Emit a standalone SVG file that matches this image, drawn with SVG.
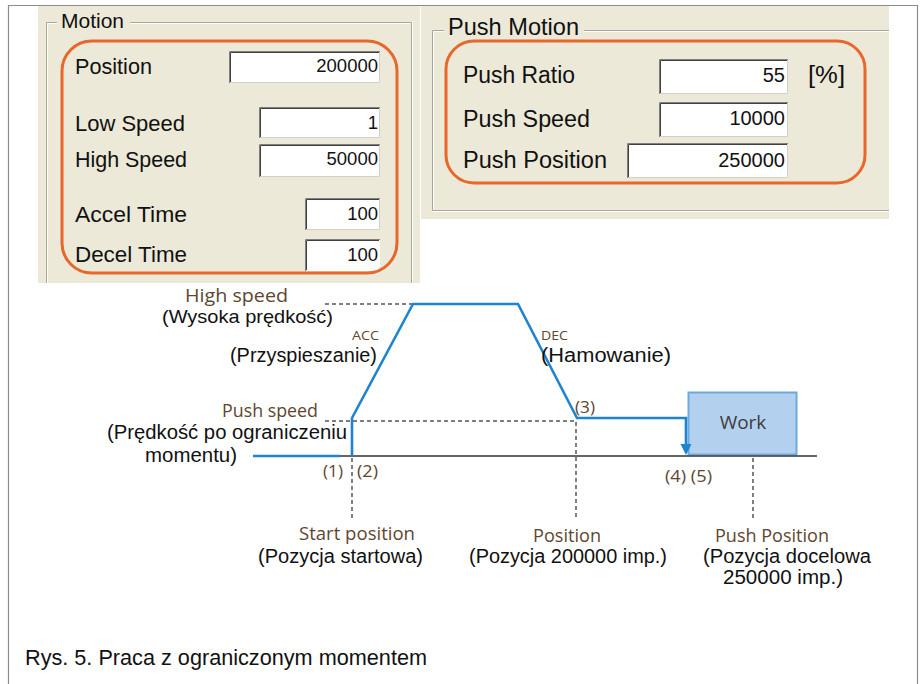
<svg xmlns="http://www.w3.org/2000/svg" width="922" height="684" viewBox="0 0 922 684">
  <style>
    .panel { fill: #ECE9D8; }
    .grp-dark { fill: none; stroke: #ACA899; stroke-width: 1; }
    .grp-light { fill: none; stroke: #FFFFFF; stroke-width: 1; }
    .ui { font-family: "Liberation Sans", Arial, sans-serif; fill: #111; }
    .val { font-family: "Liberation Sans", Arial, sans-serif; fill: #111; text-anchor: end; }
    .fld { fill: #FFFFFF; }
    .fld-o { fill: none; stroke: #808080; stroke-width: 1; }
    .fld-i { fill: none; stroke: #404040; stroke-width: 1; }
    .fld-l { fill: none; stroke: #D4D0C8; stroke-width: 1; }
    .hl { fill: none; stroke: #E8672A; stroke-width: 3; }
    .lbl { font-family: "Open Sans", "Noto Sans", sans-serif; fill: #5E4630; }
    .blk { font-family: "Liberation Sans", Arial, sans-serif; fill: #111; }
    .dash { fill: none; stroke: #555; stroke-width: 1.5; stroke-dasharray: 4 3; }
    .curve { fill: none; stroke: #1F84CF; stroke-width: 2.6; stroke-linejoin: miter; }
    .axis { fill: none; stroke: #333; stroke-width: 1.5; }
  </style>

  <rect width="922" height="684" fill="#FFFFFF"/>

  <!-- outer frame -->
  <path d="M8.5,684 V5.5 H917.5 V684" fill="none" stroke="#8C8C8C" stroke-width="1.2"/>

  <!-- Motion panel -->
  <g id="motion-panel">
    <rect class="panel" x="38" y="6" width="382" height="277"/>
    <path class="grp-dark" d="M57,22.5 H46.5 V283 M130,22.5 H411.5 V283"/>
    <path class="grp-light" d="M57,23.5 H47.5 V283 M130,23.5 H410.5 M412.5,22 V283"/>
    <text class="ui" x="61" y="28" font-size="21">Motion</text>

    <g id="field-position">
      <rect class="fld" x="229" y="51" width="151" height="32"/>
      <path class="fld-o" d="M229.5,83 V51.5 H380"/>
      <path class="fld-i" d="M230.5,82 V52.5 H379"/>
      <path class="fld-l" d="M230,82.5 H379.5 V52"/>
      <text class="ui" x="75" y="74" font-size="21.5" textLength="77" lengthAdjust="spacingAndGlyphs">Position</text>
      <text class="val" x="378" y="72" font-size="18.5">200000</text>
    </g>
    <g id="field-low-speed">
      <rect class="fld" x="259" y="107" width="121" height="31"/>
      <path class="fld-o" d="M259.5,138 V107.5 H380"/>
      <path class="fld-i" d="M260.5,137 V108.5 H379"/>
      <path class="fld-l" d="M260,137.5 H379.5 V108"/>
      <text class="ui" x="75" y="131" font-size="21.5" textLength="110" lengthAdjust="spacingAndGlyphs">Low Speed</text>
      <text class="val" x="378" y="129" font-size="18.5">1</text>
    </g>
    <g id="field-high-speed">
      <rect class="fld" x="259" y="144" width="121" height="33"/>
      <path class="fld-o" d="M259.5,177 V144.5 H380"/>
      <path class="fld-i" d="M260.5,176 V145.5 H379"/>
      <path class="fld-l" d="M260,176.5 H379.5 V145"/>
      <text class="ui" x="75" y="167" font-size="21.5" textLength="112" lengthAdjust="spacingAndGlyphs">High Speed</text>
      <text class="val" x="378" y="165" font-size="18.5">50000</text>
    </g>
    <g id="field-accel">
      <rect class="fld" x="305" y="198" width="75" height="32"/>
      <path class="fld-o" d="M305.5,230 V198.5 H380"/>
      <path class="fld-i" d="M306.5,229 V199.5 H379"/>
      <path class="fld-l" d="M306,229.5 H379.5 V199"/>
      <text class="ui" x="75" y="222" font-size="21.5" textLength="112" lengthAdjust="spacingAndGlyphs">Accel Time</text>
      <text class="val" x="378" y="220" font-size="18.5">100</text>
    </g>
    <g id="field-decel">
      <rect class="fld" x="305" y="239" width="75" height="32"/>
      <path class="fld-o" d="M305.5,271 V239.5 H380"/>
      <path class="fld-i" d="M306.5,270 V240.5 H379"/>
      <text class="ui" x="75" y="262" font-size="21.5" textLength="112" lengthAdjust="spacingAndGlyphs">Decel Time</text>
      <text class="val" x="378" y="261" font-size="18.5">100</text>
    </g>
    <rect class="hl" x="62" y="41" width="335" height="232" rx="30" ry="30"/>
  </g>

  <!-- Push Motion panel -->
  <g id="push-panel">
    <rect class="panel" x="421" y="6" width="468" height="213"/>
    <path class="grp-dark" d="M444,30.5 H432.5 V210.5 H889 M584,30.5 H889"/>
    <path class="grp-light" d="M444,31.5 H433.5 V209.5 M432,211.5 H889 M584,31.5 H889"/>
    <text class="ui" x="448" y="35" font-size="24" textLength="131" lengthAdjust="spacingAndGlyphs">Push Motion</text>

    <g id="field-push-ratio">
      <rect class="fld" x="659" y="59" width="129" height="35"/>
      <path class="fld-o" d="M659.5,94 V59.5 H788"/>
      <path class="fld-i" d="M660.5,93 V60.5 H787"/>
      <path class="fld-l" d="M660,93.5 H787.5 V60"/>
      <text class="ui" x="463" y="83" font-size="23" textLength="112" lengthAdjust="spacingAndGlyphs">Push Ratio</text>
      <text class="val" x="785" y="82" font-size="20">55</text>
      <text class="ui" x="808" y="83" font-size="23" textLength="37" lengthAdjust="spacingAndGlyphs">[%]</text>
    </g>
    <g id="field-push-speed">
      <rect class="fld" x="659" y="102" width="129" height="35"/>
      <path class="fld-o" d="M659.5,137 V102.5 H788"/>
      <path class="fld-i" d="M660.5,136 V103.5 H787"/>
      <path class="fld-l" d="M660,136.5 H787.5 V103"/>
      <text class="ui" x="463" y="127" font-size="23" textLength="127" lengthAdjust="spacingAndGlyphs">Push Speed</text>
      <text class="val" x="785" y="125" font-size="20">10000</text>
    </g>
    <g id="field-push-position">
      <rect class="fld" x="627" y="143" width="161" height="35"/>
      <path class="fld-o" d="M627.5,178 V143.5 H788"/>
      <path class="fld-i" d="M628.5,177 V144.5 H787"/>
      <path class="fld-l" d="M628,177.5 H787.5 V144"/>
      <text class="ui" x="463" y="168" font-size="23" textLength="144" lengthAdjust="spacingAndGlyphs">Push Position</text>
      <text class="val" x="785" y="167" font-size="20">250000</text>
    </g>
    <rect class="hl" x="446" y="41" width="419" height="142" rx="28" ry="28"/>
  </g>

  <!-- Work piece -->
  <g id="work">
    <rect x="688.5" y="392.5" width="108" height="62" fill="#B3D1EE" stroke="#6EA9DE" stroke-width="2"/>
    <text x="743" y="429" font-family="'Open Sans', 'Noto Sans', sans-serif" font-size="19" fill="#3C3C3C" text-anchor="middle">Work</text>
  </g>

  <!-- guide lines, axis and speed profile -->
  <g id="connectors">
    <path class="dash" d="M325,304 H413"/>
    <path class="dash" d="M325,421 H577"/>
    <path class="dash" d="M352,458 V518"/>
    <path class="dash" d="M576,422 V518"/>
    <path class="dash" d="M753,458 V518"/>
    <path class="axis" d="M340,456 H817"/>
    <path class="curve" d="M253,456 H340"/>
    <path class="curve" d="M352,456 V418 L413,304 H518 L577,418 H686 V445"/>
    <path d="M680.5,444 L691.5,444 L686,455 Z" fill="#1F84CF"/>
  </g>

  <!-- profile labels -->
  <g id="label-high-speed">
    <text class="lbl" x="185" y="302" font-size="17.5" textLength="103" lengthAdjust="spacingAndGlyphs">High  speed</text>
    <text class="blk" x="162" y="323" font-size="19" textLength="171" lengthAdjust="spacingAndGlyphs">(Wysoka prędkość)</text>
  </g>
  <g id="label-acc">
    <text class="lbl" x="352" y="340" font-size="12.5" textLength="27" lengthAdjust="spacingAndGlyphs">ACC</text>
    <text class="blk" x="230" y="362" font-size="19.5" textLength="147" lengthAdjust="spacingAndGlyphs">(Przyspieszanie)</text>
  </g>
  <g id="label-dec">
    <text class="lbl" x="541" y="340" font-size="12.5" textLength="27" lengthAdjust="spacingAndGlyphs">DEC</text>
    <text class="blk" x="541" y="362" font-size="19.5" textLength="130" lengthAdjust="spacingAndGlyphs">(Hamowanie)</text>
  </g>
  <g id="label-push-speed">
    <text class="lbl" x="222" y="417" font-size="17.5" textLength="96" lengthAdjust="spacingAndGlyphs">Push speed</text>
    <text class="blk" x="107" y="439" font-size="19.5" textLength="240" lengthAdjust="spacingAndGlyphs">(Prędkość po ograniczeniu</text>
    <text class="blk" x="145" y="462" font-size="19.5" textLength="92" lengthAdjust="spacingAndGlyphs">momentu)</text>
  </g>
  <g id="label-steps">
    <text class="lbl" x="323" y="477" font-size="16.5" textLength="20" lengthAdjust="spacingAndGlyphs">(1)</text>
    <text class="lbl" x="357" y="477" font-size="16.5" textLength="21" lengthAdjust="spacingAndGlyphs">(2)</text>
    <text class="lbl" x="575" y="413" font-size="16.5" textLength="20" lengthAdjust="spacingAndGlyphs">(3)</text>
    <text class="lbl" x="665" y="482" font-size="16.5" textLength="47" lengthAdjust="spacingAndGlyphs">(4) (5)</text>
  </g>
  <g id="label-start">
    <text class="lbl" x="299" y="540" font-size="17.5" textLength="116" lengthAdjust="spacingAndGlyphs">Start position</text>
    <text class="blk" x="258" y="563" font-size="19.5" textLength="165" lengthAdjust="spacingAndGlyphs">(Pozycja startowa)</text>
  </g>
  <g id="label-position">
    <text class="lbl" x="533" y="542" font-size="17.5" textLength="68" lengthAdjust="spacingAndGlyphs">Position</text>
    <text class="blk" x="469" y="563" font-size="19.5" textLength="198" lengthAdjust="spacingAndGlyphs">(Pozycja 200000 imp.)</text>
  </g>
  <g id="label-push-position">
    <text class="lbl" x="715" y="542" font-size="17.5" textLength="114" lengthAdjust="spacingAndGlyphs">Push Position</text>
    <text class="blk" x="703" y="563" font-size="19.5" textLength="168" lengthAdjust="spacingAndGlyphs">(Pozycja docelowa</text>
    <text class="blk" x="723" y="584" font-size="19.5" textLength="120" lengthAdjust="spacingAndGlyphs">250000 imp.)</text>
  </g>

  <!-- caption -->
  <text class="blk" x="25" y="665" font-size="22" textLength="402" lengthAdjust="spacingAndGlyphs">Rys. 5. Praca z ograniczonym momentem</text>
</svg>
